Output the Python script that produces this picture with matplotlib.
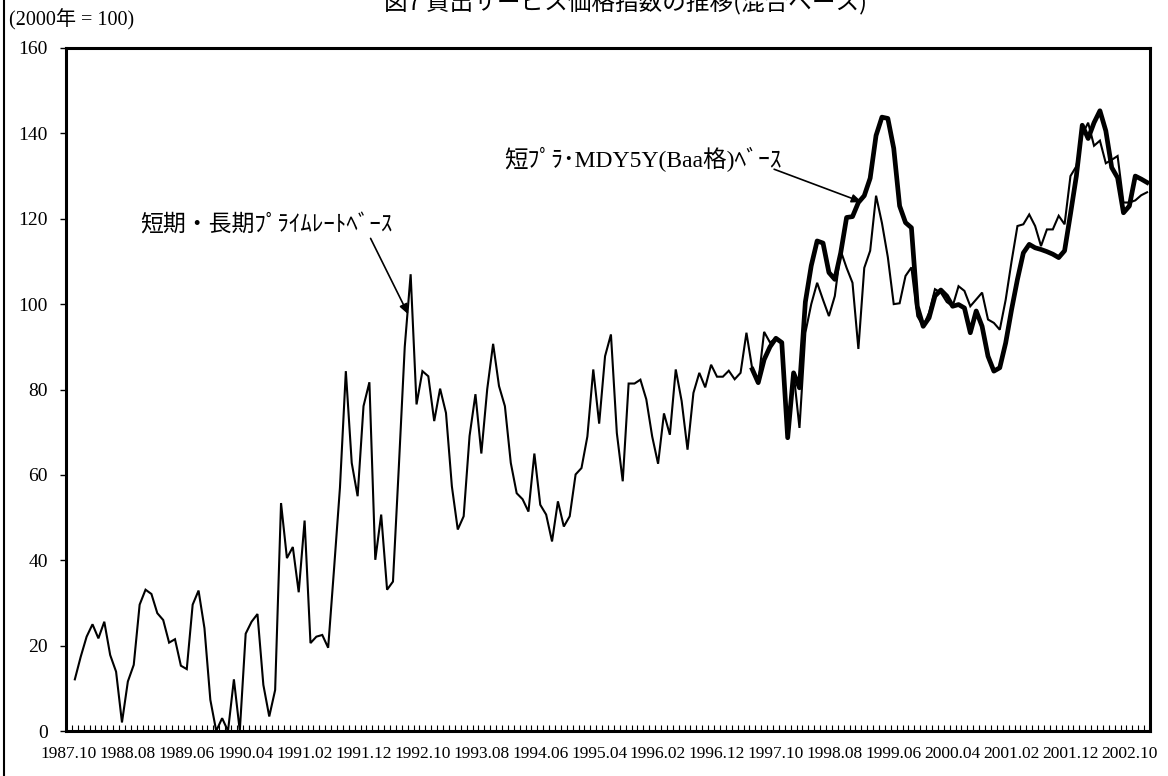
import numpy as np
import matplotlib
matplotlib.use("Agg")
import matplotlib.pyplot as plt
from matplotlib.lines import Line2D

plt.rcParams["font.family"] = ["Liberation Serif", "Noto Sans CJK JP"]

# monthly categories 1987.10 - 2003.01
months = [f"{1987 + (9 + k) // 12}.{(9 + k) % 12 + 1:02d}" for k in range(184)]
tick_labels = ["1987.10", "1988.08", "1989.06", "1990.04", "1991.02", "1991.12",
               "1992.10", "1993.08", "1994.06", "1995.04", "1996.02", "1996.12",
               "1997.10", "1998.08", "1999.06", "2000.04", "2001.02", "2001.12",
               "2002.10"]

# 短期・長期プライムレートベース, 1987.11 - 2003.01
prime_start = "1987.11"
prime_rate = [
    12.1, 17.4, 22.1, 25.0, 21.7, 25.6, 17.8, 13.9, 2.0, 11.6, 15.5, 29.6,
    33.1, 32.1, 27.6, 26.0, 20.7, 21.5, 15.3, 14.5, 29.6, 32.9, 24.1, 7.3,
    0.0, 3.0, 0.0, 12.1, 0.0, 22.8, 25.6, 27.4, 10.8, 3.4, 9.6, 53.4,
    40.5, 43.1, 32.5, 49.3, 20.6, 22.1, 22.5, 19.5, 38.0, 57.0, 84.3, 62.8,
    55.0, 76.1, 81.7, 40.1, 50.7, 33.1, 35.0, 62.0, 90.0, 107.0, 76.5, 84.3,
    83.1, 72.6, 80.2, 74.5, 57.3, 47.2, 50.3, 69.1, 78.9, 65.0, 80.1, 90.7,
    80.8, 76.1, 62.8, 55.7, 54.3, 51.4, 65.0, 53.0, 50.7, 44.4, 53.8, 47.9,
    50.3, 60.1, 61.6, 69.0, 84.7, 72.0, 87.8, 92.9, 69.8, 58.5, 81.4, 81.4,
    82.3, 77.7, 69.0, 62.6, 74.4, 69.4, 84.7, 77.3, 65.9, 79.2, 83.9, 80.5,
    85.8, 83.0, 83.0, 84.4, 82.4, 83.9, 93.3, 84.7, 81.6, 93.5, 91.0, 92.0,
    91.0, 69.0, 84.0, 71.0, 93.3, 100.0, 105.0, 101.0, 97.2, 101.9, 112.5, 108.5,
    105.0, 89.5, 108.5, 112.5, 125.4, 119.0, 111.0, 100.0, 100.2, 106.6, 108.6, 97.2,
    94.8, 98.0, 103.5, 102.7, 100.5, 99.5, 104.2, 103.1, 99.5, 101.1, 102.7, 96.4,
    95.6, 94.0, 101.0, 110.0, 118.3, 118.7, 121.0, 118.3, 113.6, 117.5, 117.5, 120.7,
    118.7, 130.0, 132.3, 139.7, 142.5, 137.1, 138.3, 133.0, 133.8, 134.7, 123.8, 123.8,
    124.3, 125.5, 126.2,
]

# 短プラ・MDY5Y(Baa格)ベース, 1997.06 - 2003.01
baa_start = "1997.06"
baa_rate = [
    84.7, 81.6, 87.0, 90.0, 92.0, 91.0, 68.7, 83.9, 80.4, 100.5,
    109.0, 114.8, 114.3, 107.4, 105.8, 112.0, 120.3, 120.5, 123.8, 125.4,
    129.5, 139.5, 143.8, 143.5, 136.5, 123.0, 119.1, 117.9, 99.5, 94.8,
    96.8, 101.9, 103.3, 101.9, 99.5, 99.9, 99.1, 93.3, 98.4, 94.8,
    87.8, 84.3, 85.1, 90.9, 98.7, 105.8, 112.0, 114.0, 113.2, 112.8,
    112.3, 111.7, 110.9, 112.5, 121.1, 130.0, 141.9, 138.8, 142.5, 145.3,
    140.6, 132.0, 129.6, 121.4, 123.0, 130.0, 129.3, 128.5,
]

x_prime = np.arange(len(prime_rate)) + months.index(prime_start)
x_baa = np.arange(len(baa_rate)) + months.index(baa_start)

fig = plt.figure(figsize=(11.68, 7.76), dpi=100)
ax = fig.add_axes([66 / 1168, 45 / 776, 1084 / 1168, 683 / 776])

ax.plot(x_prime, prime_rate, color="black", lw=1.5, solid_joinstyle="miter")
ax.plot(x_baa, baa_rate, color="black", lw=3.4, solid_joinstyle="round")

ax.set_xlim(-0.5, len(months) - 0.5)
ax.set_ylim(0, 160)
ax.set_yticks(np.arange(0, 161, 20))
ax.set_yticklabels([str(v) for v in range(0, 161, 20)], fontsize=14)
ax.tick_params(axis="y", direction="out", length=4, width=1, pad=9)

label_pos = [months.index(t) for t in tick_labels]
ax.set_xticks(label_pos)
ax.set_xticklabels(tick_labels, fontsize=12.5)
ax.set_xticks(np.arange(len(months) + 1) - 0.5, minor=True)
ax.tick_params(axis="x", which="major", length=0, pad=11)
ax.tick_params(axis="x", which="minor", direction="in", length=4, width=0.8)

for s in ax.spines.values():
    s.set_linewidth(2.2)
    s.set_color("black")

jp = ["Noto Sans CJK JP"]
ax.annotate("", xy=(57.6, 97.6), xytext=(51.2, 115.4),
            arrowprops=dict(arrowstyle="-|>,head_length=0.6,head_width=0.25",
                            color="black", lw=1.2, shrinkA=0, shrinkB=0))
ax.text(33.6, 118.7, "短期・長期ﾌﾟﾗｲﾑﾚｰﾄﾍﾞｰｽ", family=jp, fontsize=16.5,
        ha="center", va="center")

ax.annotate("", xy=(134.6, 123.9), xytext=(119.7, 131.6),
            arrowprops=dict(arrowstyle="-|>,head_length=0.6,head_width=0.25",
                            color="black", lw=1.2, shrinkA=0, shrinkB=0))
ax.text(97.5, 134.0, "短ﾌﾟﾗ･MDY5Y(Baa格)ﾍﾞｰｽ",
        family=["Liberation Serif", "Noto Sans CJK JP"], fontsize=17,
        ha="center", va="center")

fig.text(9 / 1168, 1 - 20 / 776, "(2000年 = 100)", fontsize=14.5,
         family=["Liberation Serif", "Noto Sans CJK JP"], ha="left", va="center")

# title sits partly above the top edge
fig.text(625 / 1168, 1 - 9 / 776, "図7 貸出サービス価格指数の推移(混合ベース)",
         family=jp, fontsize=17, ha="center", va="baseline")

fig.add_artist(Line2D([4 / 1168, 4 / 1168], [0, 1], color="black", lw=1.5,
                      transform=fig.transFigure))

fig.savefig("out.png", dpi=100)
